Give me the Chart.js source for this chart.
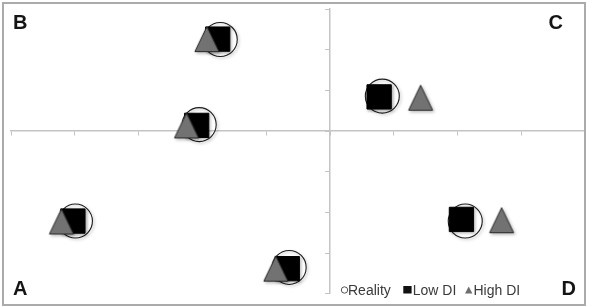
<!DOCTYPE html>
<html>
<head>
<meta charset="utf-8">
<script src="https://cdn.jsdelivr.net/npm/chart.js@4/dist/chart.umd.min.js"></script>
<style>
  html, body { margin: 0; padding: 0; background: #ffffff; }
  #wrap { position: relative; width: 592px; height: 307px; }
  canvas { display: block; }
</style>
</head>
<body>
<div id="wrap"><canvas id="c" width="592" height="307"></canvas></div>
<script>
// ---- data ----
const seriesNames = ['Reality', 'Low DI', 'High DI'];
const quadrantLabels = ['A', 'B', 'C', 'D'];

const realityX = [-1.72, -2.05, -3.99, -0.64, 0.82, 2.12];
const realityY = [2.25, 0.16, -2.21, -3.35, 0.86, -2.21];

const lowDiX = [-1.76, -2.09, -4.03, -0.67, 0.77, 2.06];
const lowDiY = [2.26, 0.14, -2.21, -3.38, 0.84, -2.17];

const highDiX = [-1.93, -2.25, -4.21, -0.85, 1.42, 2.69];
const highDiY = [2.26, 0.14, -2.22, -3.38, 0.82, -2.19];

const xMin = -5, xMax = 4, yMin = -4, yMax = 3;

function toPoints(xs, ys) { return xs.map((x, i) => ({ x: x, y: ys[i] })); }

// ---- marker images ----
function triangleImage() {
  const c = document.createElement('canvas');
  c.width = 28; c.height = 28;
  const g = c.getContext('2d');
  g.beginPath();
  g.moveTo(14, 1.5);
  g.lineTo(26, 26.5);
  g.lineTo(2, 26.5);
  g.closePath();
  g.fillStyle = '#727272';
  g.fill();
  g.lineWidth = 1;
  g.strokeStyle = '#2b2b2b';
  g.stroke();
  return c;
}
const triImg = triangleImage();

// ---- overlay plugin: frame, quadrant letters, legend ----
const shadowPlugin = {
  id: 'markerShadow',
  beforeDatasetsDraw(chart) {
    const ctx = chart.ctx;
    ctx.save();
    ctx.shadowColor = 'rgba(0,0,0,0.28)';
    ctx.shadowBlur = 3;
    ctx.shadowOffsetX = 1.5;
    ctx.shadowOffsetY = 1.5;
  },
  afterDatasetsDraw(chart) {
    chart.ctx.restore();
  }
};

const overlayPlugin = {
  id: 'overlay',
  afterDraw(chart) {
    const ctx = chart.ctx;
    ctx.save();
    // outer frame
    ctx.strokeStyle = '#ababab';
    ctx.lineWidth = 2;
    ctx.strokeRect(3, 3, 582, 302);

    // quadrant letters
    ctx.fillStyle = '#151515';
    ctx.font = 'bold 20px "Liberation Sans", Arial, sans-serif';
    ctx.textBaseline = 'alphabetic';
    ctx.textAlign = 'left';
    const letterPos = { A: [13, 295], B: [13, 28.5], C: [548.5, 28.5], D: [561.5, 295] };
    quadrantLabels.forEach(l => ctx.fillText(l, letterPos[l][0], letterPos[l][1]));

    // legend
    const symX = [341.5, 403.3, 465];
    const txtX = [348, 412.8, 473.5];
    const baseY = 295;
    ctx.font = '14px "Liberation Sans", Arial, sans-serif';
    chart.data.datasets.forEach((ds, i) => {
      const sx = symX[i];
      ctx.save();
      if (i === 0) {
        ctx.beginPath();
        ctx.arc(sx + 3, 290, 3.2, 0, Math.PI * 2);
        ctx.lineWidth = 1;
        ctx.strokeStyle = '#555555';
        ctx.stroke();
      } else if (i === 1) {
        ctx.fillStyle = '#111111';
        ctx.fillRect(sx, 286, 8.3, 7.5);
      } else {
        ctx.beginPath();
        ctx.moveTo(sx + 3.7, 286.5);
        ctx.lineTo(sx + 7.4, 293.5);
        ctx.lineTo(sx, 293.5);
        ctx.closePath();
        ctx.fillStyle = '#6e6e6e';
        ctx.fill();
      }
      ctx.restore();
      ctx.fillStyle = '#3a3a3a';
      ctx.fillText(ds.label, txtX[i], baseY);
    });
    ctx.restore();
  }
};

const axisColor = '#c4c4c4';

new Chart(document.getElementById('c'), {
  type: 'scatter',
  data: {
    datasets: [
      {
        label: seriesNames[0],
        data: toPoints(realityX, realityY),
        pointStyle: 'circle',
        pointRadius: 17,
        pointHoverRadius: 17,
        backgroundColor: 'rgba(255,255,255,0)',
        borderColor: '#1c1c1c',
        borderWidth: 1.1,
        order: 3
      },
      {
        label: seriesNames[1],
        data: toPoints(lowDiX, lowDiY),
        pointStyle: 'rect',
        pointRadius: 17.2,
        pointHoverRadius: 17.2,
        backgroundColor: '#000000',
        borderColor: '#000000',
        borderWidth: 1,
        order: 2
      },
      {
        label: seriesNames[2],
        data: toPoints(highDiX, highDiY),
        pointStyle: triImg,
        pointRadius: 14,
        pointHoverRadius: 14,
        backgroundColor: '#727272',
        borderColor: '#2b2b2b',
        borderWidth: 1,
        order: 1
      }
    ]
  },
  options: {
    responsive: false,
    devicePixelRatio: 1,
    animation: false,
    events: [],
    layout: {
      autoPadding: false,
      padding: { left: 11, right: 6.8, top: 9, bottom: 13.1 }
    },
    plugins: {
      legend: { display: false },
      tooltip: { enabled: false },
      title: { display: false }
    },
    scales: {
      x: {
        type: 'linear',
        min: xMin,
        max: xMax,
        position: { y: 0 },
        ticks: { display: false, stepSize: 1 },
        grid: { display: true, drawOnChartArea: false, drawTicks: true, tickLength: 4, color: axisColor, lineWidth: 1 },
        border: { display: true, color: axisColor, width: 1.5 }
      },
      y: {
        type: 'linear',
        min: yMin,
        max: yMax,
        position: { x: 0 },
        ticks: { display: false, stepSize: 1 },
        grid: { display: true, drawOnChartArea: false, drawTicks: true, tickLength: 4, color: axisColor, lineWidth: 1 },
        border: { display: true, color: axisColor, width: 1.5 }
      }
    }
  },
  plugins: [shadowPlugin, overlayPlugin]
});
</script>
</body>
</html>
